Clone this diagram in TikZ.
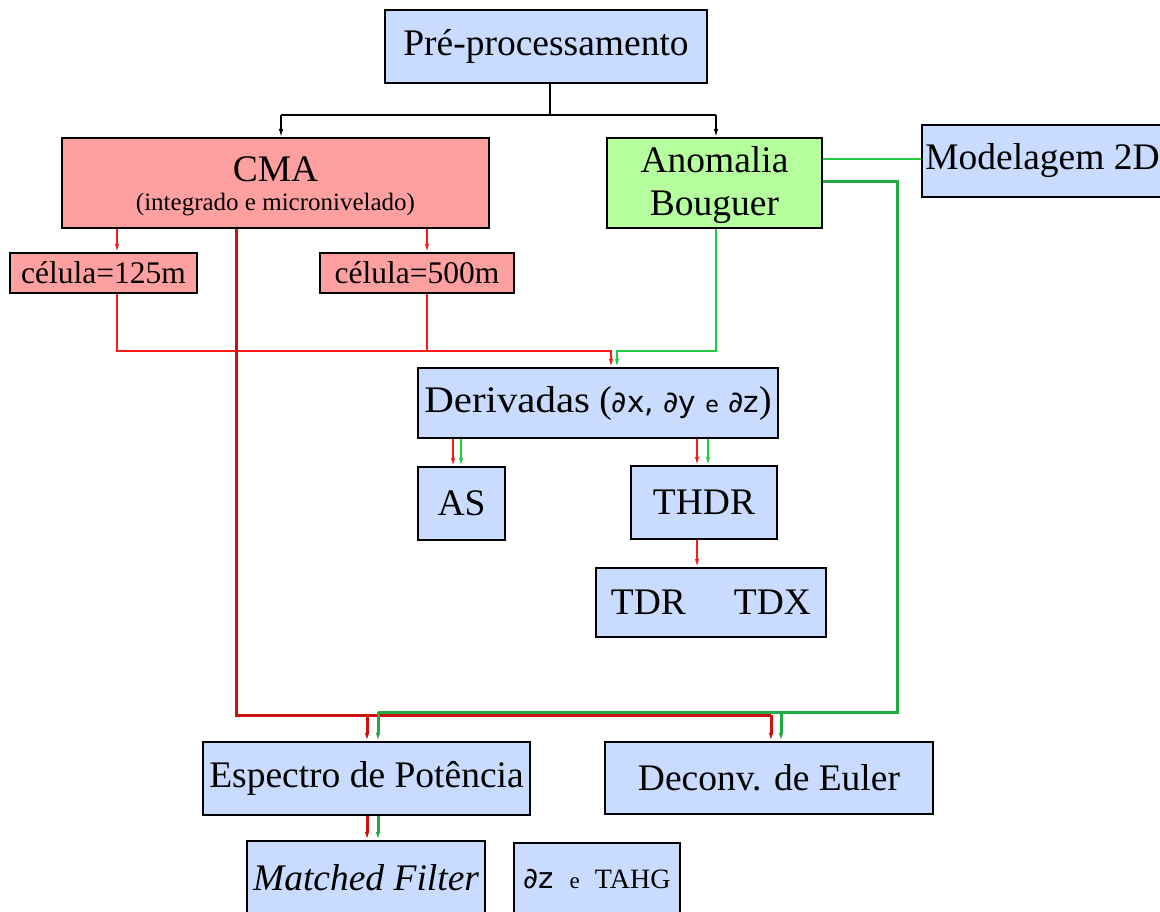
\documentclass[tikz,border=0pt]{standalone}
\usepackage{fontspec}
\setmainfont{Liberation Serif}
\newfontfamily\djv{DejaVu Sans}
\usetikzlibrary{arrows.meta}
\definecolor{bfill}{HTML}{C9DBFF}
\definecolor{pfill}{HTML}{FFA0A0}
\definecolor{gfill}{HTML}{B5FF9F}
\definecolor{rthinc}{HTML}{FF1A1A}
\definecolor{rthickc}{HTML}{CC1111}
\definecolor{gthinc}{HTML}{22CC44}
\definecolor{gthickc}{HTML}{22AA44}
\tikzset{
  box/.style={draw=black, line width=2.2pt, rectangle, inner sep=0pt, align=center, font=\fontsize{37.5}{40}\selectfont},
  bluebox/.style={box, fill=bfill},
  pinkbox/.style={box, fill=pfill},
  greenbox/.style={box, fill=gfill},
  tip/.style={-{Latex[length=8pt,width=4.5pt]}},
  blk/.style={draw=black, line width=1.3pt},
  rthin/.style={draw=rthinc, line width=1.4pt},
  gthin/.style={draw=gthinc, line width=1.4pt},
  rthick/.style={draw=rthickc, line width=3pt},
  gthick/.style={draw=gthickc, line width=3pt},
}
\begin{document}
\begin{tikzpicture}[x=1pt,y=-1pt]
\useasboundingbox (0,0) rectangle (1160,911);
\begin{scope}
\clip (0,0) rectangle (1160,911);
% boxes
\node[bluebox, minimum width=322pt, minimum height=73pt] (pre) at (546,46.5) {Pré-processamento};
\node[pinkbox, minimum width=427pt, minimum height=90pt, font=\fontsize{37.5}{29}\selectfont] (cma) at (275.5,183) {\rule{0pt}{32pt}CMA\\{\fontsize{25}{29}\selectfont (integrado e micronivelado)}\rule[-5pt]{0pt}{0pt}};
\node[greenbox, minimum width=215pt, minimum height=90pt, font=\fontsize{37.5}{43}\selectfont] (bou) at (714.5,183) {\rule{0pt}{31pt}Anomalia\\Bouguer\rule[-8pt]{0pt}{0pt}};
\node[bluebox, minimum width=241pt, minimum height=72pt] (mod) at (1042.5,161) {Modelagem 2D};
\node[pinkbox, minimum width=187pt, minimum height=40pt, font=\fontsize{31.5}{33}\selectfont] (c125) at (103.5,273) {célula=125m};
\node[pinkbox, minimum width=194pt, minimum height=40pt, font=\fontsize{31.5}{33}\selectfont] (c500) at (417,273) {célula=500m};
\node[bluebox, minimum width=360pt, minimum height=70pt] (der) at (598,403) {\scalebox{1.09}[1]{Derivadas} ({\djv\fontsize{29.5}{32}\selectfont ∂x, ∂y {\fontsize{22}{24}\selectfont e} ∂z})};
\node[bluebox, minimum width=87pt, minimum height=73pt] (as) at (461.5,503.5) {AS};
\node[bluebox, minimum width=146pt, minimum height=73pt] (thdr) at (704,502.5) {THDR};
\node[bluebox, minimum width=230pt, minimum height=69pt] (tdx) at (711,602.5) {TDR\hspace{48pt}TDX};
\node[bluebox, minimum width=327pt, minimum height=73pt] (esp) at (366.5,778.5) {Espectro de Potência};
\node[bluebox, minimum width=328pt, minimum height=72pt] (dec) at (769,778) {Deconv. de Euler};
\node[bluebox, minimum width=238pt, minimum height=74pt] (mf) at (366,878) {\itshape Matched Filter};
\node[bluebox, minimum width=166pt, minimum height=72pt] (tahg) at (597,879) {{\djv\fontsize{29}{32}\selectfont ∂z}\hspace{16pt}{\fontsize{23}{24}\selectfont e}\hspace{15pt}{\fontsize{28}{30}\selectfont TAHG}};
% black connectors
\coordinate (j0) at (550,115);
\draw[blk] (550,0 |- pre.south) -- (j0);
\draw[blk] (281,115) -- (716,115);
\draw[blk,tip] (281,115) -- (281,0 |- cma.north);
\draw[blk,tip] (716,115) -- (716,0 |- bou.north);
% thin red
\draw[rthin,tip] (117,0 |- cma.south) -- (117,0 |- c125.north);
\draw[rthin,tip] (427,0 |- cma.south) -- (427,0 |- c500.north);
\draw[rthin,tip] (117,0 |- c125.south) -- (117,351) -- (611,351) -- (611,0 |- der.north);
\draw[rthin] (427,0 |- c500.south) -- (427,351);
% thin green
\draw[gthin,tip] (716,0 |- bou.south) -- (716,351) -- (617,351) -- (617,0 |- der.north);
\draw[gthin] (bou.east |- 0,159) -- (mod.west |- 0,159);
% derivadas outputs
\draw[rthin,tip] (453,0 |- der.south) -- (453,0 |- as.north);
\draw[gthin,tip] (461,0 |- der.south) -- (461,0 |- as.north);
\draw[rthin,tip] (697,0 |- der.south) -- (697,0 |- thdr.north);
\draw[gthin,tip] (708,0 |- der.south) -- (708,0 |- thdr.north);
\draw[rthin,tip] (697,0 |- thdr.south) -- (697,0 |- tdx.north);
% thick red
\draw[rthick] (236,0 |- cma.south) -- (236,715) -- (771,715);
\draw[rthick,tip] (367,715) -- (367,0 |- esp.north);
\draw[rthick,tip] (771,715) -- (771,0 |- dec.north);
% thick green
\draw[gthick] (bou.east |- 0,181) -- (897,181) -- (897,712) -- (378,712);
\draw[gthick,tip] (378,712) -- (378,0 |- esp.north);
\draw[gthick,tip] (781,712) -- (781,0 |- dec.north);
% espectro outputs
\draw[rthick,tip] (367,0 |- esp.south) -- (367,0 |- mf.north);
\draw[gthick,tip] (378,0 |- esp.south) -- (378,0 |- mf.north);
\end{scope}
\end{tikzpicture}
\end{document}
